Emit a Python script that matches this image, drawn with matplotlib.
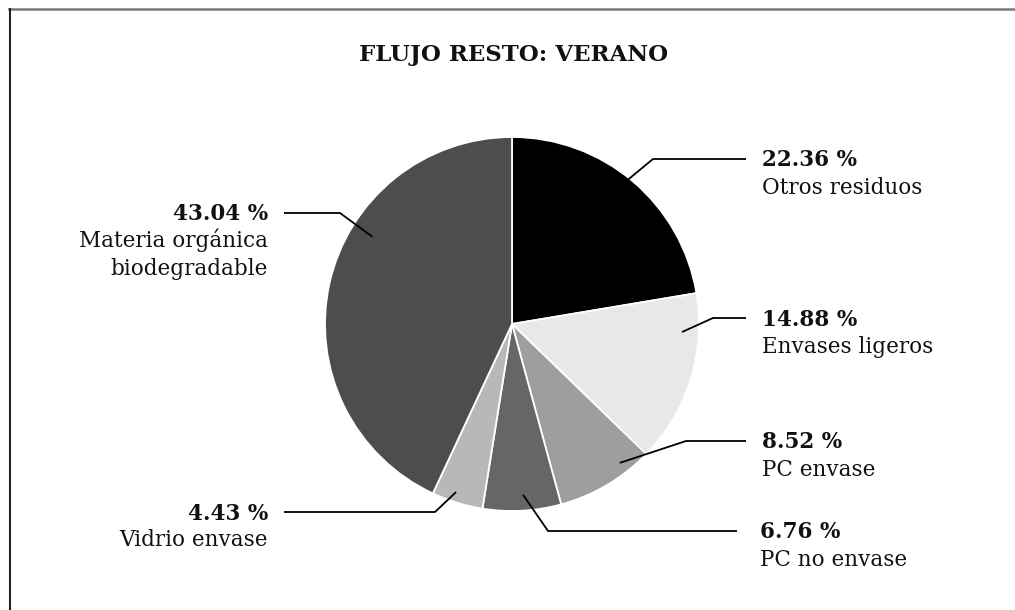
import matplotlib
matplotlib.use("Agg")
import matplotlib.pyplot as plt
import numpy as np
from matplotlib.lines import Line2D

# ---- data ----
categories = ["Otros residuos", "Envases ligeros", "PC envase", "PC no envase",
              "Vidrio envase", "Materia orgánica\nbiodegradable"]
values = [22.36, 14.88, 8.52, 6.76, 4.43, 43.04]
pct_labels = ["22.36 %", "14.88 %", "8.52 %", "6.76 %", "4.43 %", "43.04 %"]
colors = ["#000000", "#e8e8e8", "#9e9e9e", "#666666", "#b8b8b8", "#4d4d4d"]
title = "FLUJO RESTO: VERANO"

W, H = 1015, 610
FONT = "DejaVu Serif"

fig = plt.figure(figsize=(W / 100, H / 100), dpi=100)
ax = fig.add_axes([0, 0, 1, 1])

cx, cy, R = 512, H - 324, 187
ax.pie(values, colors=colors, startangle=90, counterclock=False,
       center=(cx, cy), radius=R,
       wedgeprops=dict(edgecolor="white", linewidth=1.3))
ax.set_xlim(0, W)
ax.set_ylim(0, H)
ax.set_aspect("equal")
ax.axis("off")

# leader layout: (start angle deg, start radius frac, elbow x, elbow y, end x, text x, side)
layout = [
    (52.4, 0.90, 653, 159, 746, 762, "left"),
    (-2.7, 0.91, 713, 318, 746, 762, "left"),
    (-52.2, 0.94, 686, 441, 746, 762, "left"),
    (-86.3, 0.915, 548, 531, 737, 760, "left"),
    (-108.4, 0.947, 435, 512, 284, 268, "right"),
    (148.0, 0.88, 340, 213, 284, 268, "right"),
]

for (ang, rf, ex, ey, endx, tx, ha), pct, name in zip(layout, pct_labels, categories):
    sx = cx + rf * R * np.cos(np.radians(ang))
    sy = cy + rf * R * np.sin(np.radians(ang))
    ey_d = H - ey
    ax.plot([sx, ex, endx], [sy, ey_d, ey_d], color="black", lw=1.3,
            solid_capstyle="butt", zorder=5)
    base = ey_d - 7.5
    ax.text(tx, base, pct, ha=ha, va="baseline", fontsize=15.5,
            fontweight="bold", family=FONT, color="#111111")
    for i, ln in enumerate(name.split("\n")):
        ax.text(tx, base - 27 * (i + 1), ln, ha=ha, va="baseline",
                fontsize=15.5, family=FONT, color="#111111")

ax.text(514, H - 55, title, ha="center", va="center", fontsize=16.5,
        fontweight="bold", family=FONT, color="#111111")

# frame (top and left)
fig.add_artist(Line2D([9 / W, 1], [1 - 9 / H, 1 - 9 / H], color="#7a7a7a", lw=1.8))
fig.add_artist(Line2D([9.5 / W, 9.5 / W], [0, 1 - 9 / H], color="#222222", lw=1.5))

fig.savefig("out.png", dpi=100)
